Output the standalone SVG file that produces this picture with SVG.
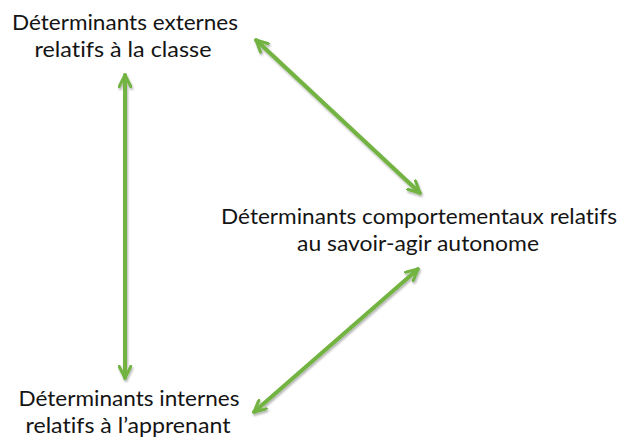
<svg xmlns="http://www.w3.org/2000/svg" width="626" height="444" viewBox="0 0 626 444">
<style>
.t{font-family:Lato,"Open Sans","Noto Sans",sans-serif;font-size:22px;fill:#141414;text-anchor:middle;font-variant-ligatures:none;font-feature-settings:"liga" 0,"dlig" 0}
.a{stroke:#72b342;stroke-width:4;fill:none;stroke-linecap:round;marker-start:url(#h);marker-end:url(#h)}
</style>
<defs>
<marker id="h" viewBox="0 0 12 12" refX="11" refY="6" markerWidth="14" markerHeight="14" markerUnits="userSpaceOnUse" orient="auto-start-reverse">
<path d="M1,1 L11,6 L1,11" fill="none" stroke="#72b342" stroke-width="2.6" stroke-linecap="round" stroke-linejoin="round"/>
</marker>
<filter id="s" x="-20%" y="-20%" width="140%" height="140%">
<feDropShadow dx="1" dy="2" stdDeviation="1.2" flood-color="#000" flood-opacity="0.3"/>
</filter>
</defs>
<g id="connectors" filter="url(#s)">
<line class="a" x1="125" y1="75" x2="125" y2="378"/>
<line class="a" x1="256" y1="40" x2="420" y2="193"/>
<line class="a" x1="418" y1="269" x2="254" y2="412"/>
</g>
<g id="node-externes">
<text class="t" x="125" y="30" textLength="226" lengthAdjust="spacingAndGlyphs">Déterminants externes</text>
<text class="t" x="123" y="57" textLength="177" lengthAdjust="spacingAndGlyphs">relatifs à la classe</text>
</g>
<g id="node-comportementaux">
<text class="t" x="419" y="224" textLength="396" lengthAdjust="spacingAndGlyphs">Déterminants comportementaux relatifs</text>
<text class="t" x="418" y="251" textLength="242" lengthAdjust="spacingAndGlyphs">au savoir-agir autonome</text>
</g>
<g id="node-internes">
<text class="t" x="129" y="406" textLength="221" lengthAdjust="spacingAndGlyphs">Déterminants internes</text>
<text class="t" x="128" y="433" textLength="205" lengthAdjust="spacingAndGlyphs">relatifs à l’apprenant</text>
</g>
</svg>
